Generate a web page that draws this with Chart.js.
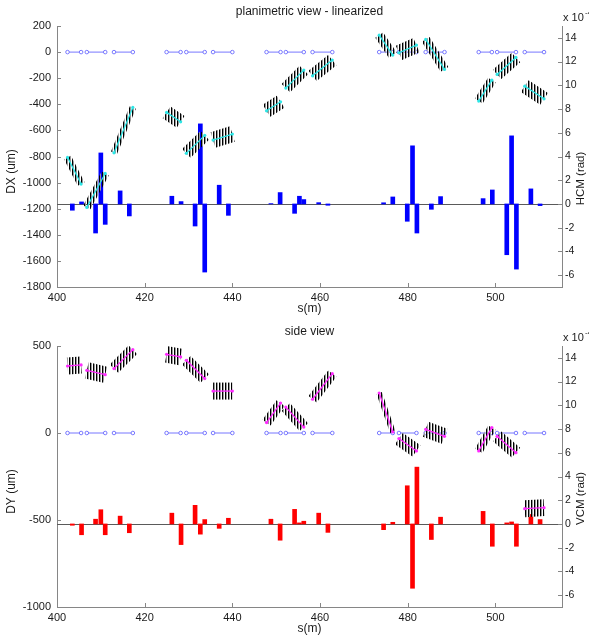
<!DOCTYPE html>
<html>
<head>
<meta charset="utf-8">
<script src="https://cdn.jsdelivr.net/npm/chart.js@4.4.1/dist/chart.umd.min.js"></script>
<style>
    html, body { margin: 0; padding: 0; background: #fff; }
    #wrap { position: relative; width: 589px; height: 635px; }
    #c1 { position: absolute; left: 0; top: 0; }
    #c2 { position: absolute; left: 0; top: 318px; }
</style>
</head>
<body>
<div id="wrap">
    <canvas id="c1" width="589" height="318"></canvas>
    <canvas id="c2" width="589" height="317"></canvas>
</div>
<script>
// ==================== DATA ====================
// element (quad) positions along s, taken in pairs
const elemS = [402.4, 405.5, 406.8, 411.0, 413.0, 417.3,
               425.0, 428.2, 429.5, 433.7, 435.6, 440.0,
               447.8, 451.0, 452.2, 456.3, 458.3, 462.8,
               473.5, 476.6, 478.0, 482.0, 484.1, 488.4,
               496.2, 499.2, 500.4, 504.7, 506.7, 511.1];

// orbit at entry / exit of each element pair (um)
const dxIn  = [-807, -1190, -772, -462, -776, -674, -450, -276, -182, 130, -5, 97, -375, -171, -261];
const dxOut = [-1011, -930, -424, -534, -638, -628, -381, -138, -61, -23, 54, -133, -215, -41, -358];
const dyIn  = [385, 360, 370, 452, 418, 241, 60, 149, 194, 230, -32, 21, -103, -19, -435];
const dyOut = [391, 335, 479, 437, 313, 241, 172, 34, 341, 6, -103, -19, 31, -113, -429];

// corrector positions and kicks (x 1e-4 rad)
const corrS = [403.5, 405.6, 408.8, 410.0, 411.0, 414.4, 416.5,
               426.2, 428.3, 431.5, 432.7, 433.7, 437.0, 439.1,
               448.8, 450.9, 454.2, 455.3, 456.3, 459.7, 461.8,
               474.5, 476.6, 479.9, 481.1, 482.1, 485.4, 487.5,
               497.2, 499.3, 502.6, 503.7, 504.8, 508.1, 510.2];
const hcm = [-0.53, 0.17, -2.45, 4.3, -1.72, 1.10, -1.01,
             0.65, 0.2, -1.86, 6.75, -5.74, 1.58, -0.96,
             0.03, 0.96, -0.79, 0.65, 0.37, 0.11, -0.11,
             0.1, 0.59, -1.46, 4.9, -2.45, -0.45, 0.62,
             0.45, 1.18, -4.28, 5.74, -5.49, 1.27, -0.14];
const vcm = [-0.11, -0.91, 0.40, 1.20, -0.91, 0.66, -0.74,
             0.91, -1.74, 1.57, -0.86, 0.37, -0.37, 0.48,
             0.40, -1.37, 1.23, 0.09, 0.23, 0.91, -0.71,
             -0.48, 0.14, 3.22, -5.42, 4.79, -1.31, 0.57,
             1.06, -1.88, 0.09, 0.17, -1.88, 0.80, 0.37];

// axes
const xTicks  = [400, 420, 440, 460, 480, 500];
const dxTicks = [-1800, -1600, -1400, -1200, -1000, -800, -600, -400, -200, 0, 200];
const dyTicks = [-1000, -500, 0, 500];
const cmTicks = [-6, -4, -2, 0, 2, 4, 6, 8, 10, 12, 14];
const X_MIN = 400, X_MAX = 515.2;
const CM_MIN = -7, CM_MAX = 15;

// ==================== STYLE ====================
const FONT = '"Liberation Sans", Arial, Helvetica, sans-serif';
const AXIS = '#868686';
const TXT = '#1a1a1a';
const ELEM = '#7777ff';
const BAND_H = 17;

Chart.defaults.font.family = FONT;
Chart.defaults.font.size = 11;
Chart.defaults.color = TXT;

function makeHatch(ctx) {
    const c = document.createElement('canvas');
    c.width = 3; c.height = 1;
    const g = c.getContext('2d');
    g.fillStyle = '#000'; g.fillRect(0, 0, 1, 1);
    g.fillStyle = '#999'; g.fillRect(1, 0, 1, 1);
    return ctx.createPattern(c, 'repeat');
}

// keep the hatch band a constant height whatever the slope
function bandWidth(ctx) {
    const xs = ctx.chart.scales.x, ys = ctx.chart.scales.y;
    const d = ctx.dataset && ctx.dataset.data;
    if (!xs || !ys || !d) return BAND_H * 0.8;
    const dx = xs.getPixelForValue(d[1].x) - xs.getPixelForValue(d[0].x);
    const dy = ys.getPixelForValue(d[1].y) - ys.getPixelForValue(d[0].y);
    const w = BAND_H * Math.abs(dx) / (Math.hypot(dx, dy) || 1);
    return isFinite(w) && w > 0 ? w : BAND_H * 0.8;
}

const decor = {
    id: 'decor',
    beforeDatasetsDraw(chart) {
        const { ctx, chartArea: a, scales } = chart;
        const y0 = Math.round(scales.y1.getPixelForValue(0)) + 0.5;
        ctx.save();
        ctx.strokeStyle = '#5a5a5a';
        ctx.lineWidth = 1;
        ctx.beginPath();
        ctx.moveTo(a.left, y0);
        ctx.lineTo(a.right, y0);
        ctx.stroke();
        ctx.restore();
    },
    afterDraw(chart, args, opts) {
        const { ctx, chartArea: a, scales } = chart;
        ctx.save();
        // inward tick marks
        ctx.strokeStyle = AXIS;
        ctx.lineWidth = 1;
        ctx.beginPath();
        scales.x.ticks.forEach(t => {
            const p = Math.round(scales.x.getPixelForValue(t.value)) + 0.5;
            ctx.moveTo(p, a.bottom); ctx.lineTo(p, a.bottom - 4);
        });
        scales.y.ticks.forEach(t => {
            const p = Math.round(scales.y.getPixelForValue(t.value)) + 0.5;
            ctx.moveTo(a.left, p); ctx.lineTo(a.left + 4, p);
        });
        scales.y1.ticks.forEach(t => {
            const p = Math.round(scales.y1.getPixelForValue(t.value)) + 0.5;
            ctx.moveTo(a.right, p); ctx.lineTo(a.right - 4, p);
        });
        ctx.stroke();

        // texts
        const cx = (a.left + a.right) / 2;
        const cy = (a.top + a.bottom) / 2;
        ctx.fillStyle = TXT;
        ctx.textAlign = 'center';
        ctx.textBaseline = 'middle';
        ctx.font = '12px ' + FONT;
        ctx.fillText(opts.title, cx, a.top - 14);
        ctx.fillText('s(m)', cx, a.bottom + 22);

        ctx.save();
        ctx.translate(12, cy + 15);
        ctx.rotate(-Math.PI / 2);
        ctx.fillText(opts.yLabel, 0, 0);
        ctx.restore();

        ctx.font = '11.5px ' + FONT;
        ctx.save();
        ctx.translate(581, cy + 22);
        ctx.rotate(-Math.PI / 2);
        ctx.fillText(opts.y2Label, 0, 0);
        ctx.restore();

        // exponent of the right axis
        ctx.textAlign = 'left';
        ctx.font = '11px ' + FONT;
        ctx.fillText('x 10', a.right + 1, a.top - 8);
        ctx.font = '8px ' + FONT;
        ctx.fillText('-4', a.right + 23, a.top - 13);
        ctx.restore();
    }
};

function makePanel(p) {
    const canvas = document.getElementById(p.id);
    const pat = makeHatch(canvas.getContext('2d'));
    const datasets = [];

    datasets.push({
        type: 'bar',
        data: corrS.map((s, i) => ({ x: s, y: p.cm[i] })),
        yAxisID: 'y1',
        backgroundColor: p.barColor,
        barThickness: 4,
        borderWidth: 0,
        order: 5
    });

    for (let k = 0; k < elemS.length / 2; k++) {
        const a = elemS[2 * k], b = elemS[2 * k + 1];
        datasets.push({
            type: 'line',
            data: [{ x: a, y: 0 }, { x: b, y: 0 }],
            yAxisID: 'y',
            borderColor: ELEM,
            borderWidth: 1,
            pointRadius: 1.8,
            pointBorderColor: ELEM,
            pointBackgroundColor: '#fff',
            pointBorderWidth: 1,
            order: 4
        });
        datasets.push({
            type: 'line',
            data: [{ x: a, y: p.vIn[k] }, { x: b, y: p.vOut[k] }],
            yAxisID: 'y',
            borderColor: pat,
            borderWidth: bandWidth,
            borderCapStyle: 'butt',
            pointRadius: 0,
            order: 3
        });
        datasets.push({
            type: 'line',
            data: [{ x: a, y: p.vIn[k] }, { x: b, y: p.vOut[k] }],
            yAxisID: 'y',
            borderColor: p.trajColor,
            borderWidth: 1.3,
            pointRadius: 1.6,
            pointBackgroundColor: p.trajColor,
            pointBorderWidth: 0,
            order: 1
        });
    }

    const fixTicks = arr => s => { s.ticks = arr.map(v => ({ value: v })); };
    const tickOpts = (pad, size) => ({ padding: pad, autoSkip: false, maxRotation: 0, color: TXT, font: { size: size }, callback: v => String(v) });

    return new Chart(canvas, {
        type: 'line',
        data: { datasets },
        options: {
            responsive: false,
            animation: false,
            events: [],
            layout: { padding: { top: p.top, left: 0, right: 0, bottom: 0 } },
            plugins: {
                legend: { display: false },
                tooltip: { enabled: false },
                decor: { title: p.title, yLabel: p.yLabel, y2Label: p.y2Label }
            },
            scales: {
                x: {
                    type: 'linear',
                    min: X_MIN, max: X_MAX,
                    offset: false,
                    grid: { display: false, drawTicks: false },
                    border: { display: true, color: AXIS },
                    ticks: tickOpts(4, 11),
                    afterBuildTicks: fixTicks(xTicks),
                    afterFit: s => { s.height = p.xHeight; }
                },
                y: {
                    type: 'linear',
                    position: 'left',
                    min: p.yMin, max: p.yMax,
                    grid: { display: false, drawTicks: false },
                    border: { display: true, color: AXIS },
                    ticks: tickOpts(6, 11),
                    afterBuildTicks: fixTicks(p.yTicks),
                    afterFit: s => { s.width = 57; }
                },
                y1: {
                    type: 'linear',
                    position: 'right',
                    min: CM_MIN, max: CM_MAX,
                    grid: { display: false, drawTicks: false },
                    border: { display: true, color: AXIS },
                    ticks: tickOpts(3, 10.5),
                    afterBuildTicks: fixTicks(cmTicks),
                    afterFit: s => { s.width = 27; }
                }
            }
        },
        plugins: [decor]
    });
}

makePanel({
    id: 'c1', top: 26, xHeight: 31,
    title: 'planimetric view - linearized', yLabel: 'DX (um)', y2Label: 'HCM (rad)',
    yMin: -1800, yMax: 200, yTicks: dxTicks,
    vIn: dxIn, vOut: dxOut, cm: hcm,
    barColor: '#0000ff', trajColor: '#2ee6e6'
});

makePanel({
    id: 'c2', top: 28, xHeight: 28,
    title: 'side view', yLabel: 'DY (um)', y2Label: 'VCM (rad)',
    yMin: -1000, yMax: 500, yTicks: dyTicks,
    vIn: dyIn, vOut: dyOut, cm: vcm,
    barColor: '#ff0000', trajColor: '#ff2bff'
});
</script>
</body>
</html>
